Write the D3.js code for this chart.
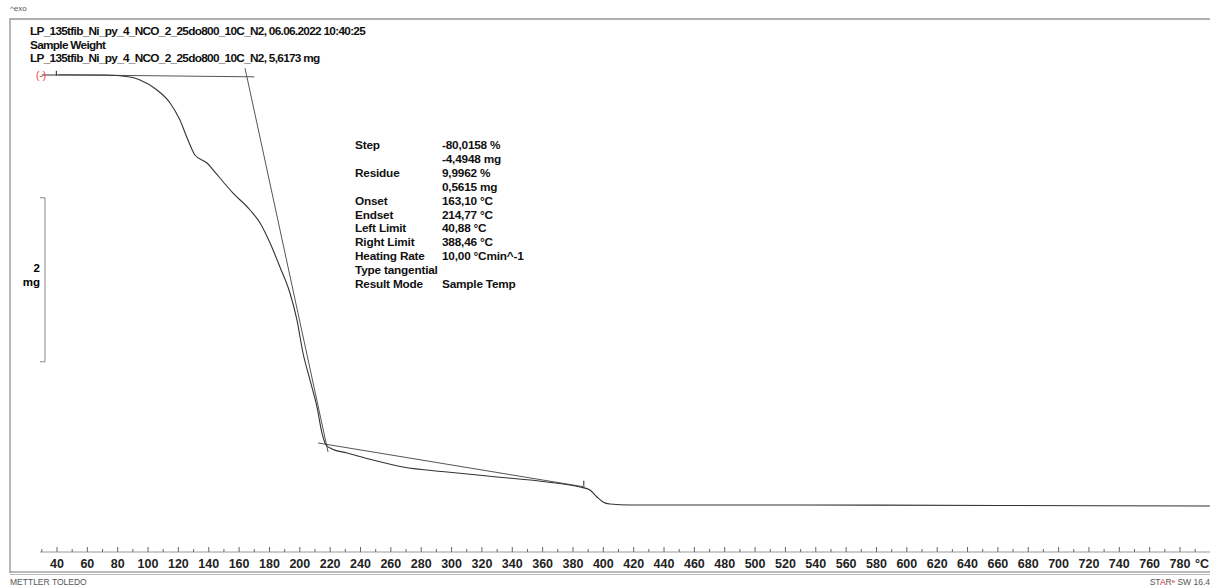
<!DOCTYPE html>
<html>
<head>
<meta charset="utf-8">
<script src="https://cdn.jsdelivr.net/npm/d3@7"></script>
<style>
  body { margin: 0; background: #fff; }
  svg { display: block; font-family: "Liberation Sans", Arial, sans-serif; }
</style>
</head>
<body>
<svg id="tga" width="1210" height="588"></svg>
<script>

// courbe TGA : temperature (°C) et masse (mg)
let temperatures = [30, 71.6, 88.1, 94.7, 105.9, 114.5, 121.0, 126.3, 130.9, 138.8, 144.1, 150.7, 156.0,
  167.2, 173.8, 180.4, 186.9, 193.5, 198.1, 202.1, 206.7, 211.3, 214.6, 217.3, 221.2, 231.1, 248.2,
  268.0, 297.0, 329.9, 362.9, 384.6, 391.2, 395.8, 399.8, 404.4, 417.6, 529.6, 661.4, 799.7];
let masses = [5.617, 5.617, 5.593, 5.556, 5.434, 5.276, 5.068, 4.825, 4.642, 4.544, 4.434, 4.288, 4.178,
  3.971, 3.812, 3.568, 3.276, 2.959, 2.630, 2.227, 1.898, 1.569, 1.251, 1.105, 1.056, 1.008, 0.922,
  0.837, 0.776, 0.715, 0.654, 0.593, 0.556, 0.471, 0.410, 0.385, 0.373, 0.373, 0.367, 0.361];

// tangentes de l'évaluation [T, mg]
let tangenteBase = [[40.88, 5.62], [170, 5.595]];
let tangentePente = [[163.9, 5.70], [218.6, 1.02]];
let tangenteFin = [[212.0, 1.13], [387.9, 0.593]];
let limites = [40.88, 388.46];

// textes
let titres = ["LP_135tfib_Ni_py_4_NCO_2_25do800_10C_N2, 06.06.2022 10:40:25",
  "Sample Weight",
  "LP_135tfib_Ni_py_4_NCO_2_25do800_10C_N2, 5,6173 mg"];
let resultatsLabels = ["Step", "", "Residue", "", "Onset", "Endset", "Left Limit", "Right Limit", "Heating Rate", "Type tangential", "Result Mode"];
let resultatsValeurs = ["-80,0158 %", "-4,4948 mg", "9,9962 %", "0,5615 mg", "163,10 °C", "214,77 °C", "40,88 °C", "388,46 °C", "10,00 °Cmin^-1", "", "Sample Temp"];
let ticksLabels = d3.range(40, 781, 20);
let echelleMasse = [4.12, 2.12];

let svg = d3.select("#tga");

let x = d3.scaleLinear().domain([40, 780]).range([57, 1180]);
let y = d3.scaleLinear().domain([0, 5.6173]).range([535.6, 75]);

//Cadre
svg.append("line").attr("x1", 10).attr("x2", 1210).attr("y1", 19).attr("y2", 19)
  .style("stroke", "#b0b0b0").style("stroke-width", 2);
svg.append("line").attr("x1", 10).attr("x2", 10).attr("y1", 18).attr("y2", 573)
  .style("stroke", "#a0a0a0").style("stroke-width", 1.5);
svg.append("line").attr("x1", 10).attr("x2", 1210).attr("y1", 572).attr("y2", 572)
  .style("stroke", "#777").style("stroke-width", 1);
svg.append("line").attr("x1", 10).attr("x2", 1210).attr("y1", 574.5).attr("y2", 574.5)
  .style("stroke", "#bbb").style("stroke-width", 1.2);

svg.append("text").attr("x", 10).attr("y", 11).style("font-size", "8px").style("fill", "#555").text("^exo");

//Titres
svg.selectAll("text.titre").data(titres).enter().append("text")
  .attr("class", "titre")
  .attr("x", 30)
  .attr("y", (d, i) => 35 + i * 13.5)
  .style("font-size", "11.8px").style("font-weight", "bold").style("fill", "#111")
  .style("letter-spacing", "-0.7px")
  .text(d => d);

//Axe x
let axeY = 552;
svg.append("line").attr("x1", 40).attr("x2", 1210).attr("y1", axeY).attr("y2", axeY)
  .style("stroke", "#999").style("stroke-width", 1);
svg.selectAll("line.tick").data(d3.range(30, 800, 10)).enter().append("line")
  .attr("class", "tick")
  .attr("x1", d => x(d)).attr("x2", d => x(d))
  .attr("y1", axeY).attr("y2", d => d % 20 === 0 ? axeY - 5 : axeY - 3)
  .style("stroke", "#666").style("stroke-width", 1);
svg.selectAll("text.tickLabel").data(ticksLabels).enter().append("text")
  .attr("class", "tickLabel")
  .attr("x", d => x(d)).attr("y", 568)
  .attr("text-anchor", "middle")
  .style("font-size", "12.5px").style("font-weight", "bold").style("fill", "#222")
  .text(d => d);
svg.append("text").attr("x", 1202).attr("y", 568).attr("text-anchor", "middle")
  .style("font-size", "12.5px").style("font-weight", "bold").style("fill", "#222").text("°C");

//Pied de page
svg.append("text").attr("x", 10).attr("y", 585).style("font-size", "8.5px").style("fill", "#555").text("METTLER TOLEDO");
let star = svg.append("text").attr("x", 1210).attr("y", 585).attr("text-anchor", "end")
  .style("font-size", "8.5px").style("fill", "#555");
star.append("tspan").text("ST");
star.append("tspan").style("fill", "#d22").text("A");
star.append("tspan").text("R");
star.append("tspan").style("fill", "#d22").attr("dy", -2).style("font-size", "6px").text("e");
star.append("tspan").attr("dy", 2).text(" SW 16.4");

//Barre d'échelle masse
let yTop = y(echelleMasse[0]), yBot = y(echelleMasse[1]);
svg.append("path")
  .attr("d", `M40,${yTop}H45V${yBot}H40`)
  .style("fill", "none").style("stroke", "#888").style("stroke-width", 1);
svg.append("text").attr("x", 40).attr("y", (yTop + yBot) / 2 - 8).attr("text-anchor", "end")
  .style("font-size", "11.5px").style("font-weight", "bold").text("2");
svg.append("text").attr("x", 40).attr("y", (yTop + yBot) / 2 + 6).attr("text-anchor", "end")
  .style("font-size", "11.5px").style("font-weight", "bold").text("mg");

//Tangentes
let ligne = d3.line().x(d => x(d[0])).y(d => y(d[1]));
[tangenteBase, tangentePente, tangenteFin].forEach(t => {
  svg.append("path").attr("d", ligne(t))
    .style("fill", "none").style("stroke", "#555").style("stroke-width", 1);
});

//Courbe
let donnees = temperatures.map((t, i) => [t, masses[i]]);
svg.append("path")
  .datum(donnees)
  .attr("d", d3.line().x(d => x(d[0])).y(d => y(d[1])).curve(d3.curveMonotoneX))
  .style("fill", "none").style("stroke", "#333").style("stroke-width", 1.1);

//Limites
limites.forEach(l => {
  let m = l < 100 ? 5.62 : 0.62;
  svg.append("line").attr("x1", x(l) - 2).attr("x2", x(l) - 2).attr("y1", y(m) - 4).attr("y2", y(m) + 1)
    .style("stroke", "#222").style("stroke-width", 1);
});
svg.append("text").attr("x", x(40) - 21).attr("y", y(5.6173) + 3.5)
  .style("font-size", "10px").style("fill", "#e33").text("(-)");

//Résultats
svg.selectAll("text.resLabel").data(resultatsLabels).enter().append("text")
  .attr("class", "resLabel")
  .attr("x", 355).attr("y", (d, i) => 149 + i * 13.9)
  .style("font-size", "11.8px").style("font-weight", "bold").style("fill", "#111")
  .style("letter-spacing", "-0.2px")
  .text(d => d);
svg.selectAll("text.resVal").data(resultatsValeurs).enter().append("text")
  .attr("class", "resVal")
  .attr("x", 442).attr("y", (d, i) => 149 + i * 13.9)
  .style("font-size", "11.8px").style("font-weight", "bold").style("fill", "#111")
  .style("letter-spacing", "-0.2px")
  .text(d => d);

</script>
</body>
</html>
